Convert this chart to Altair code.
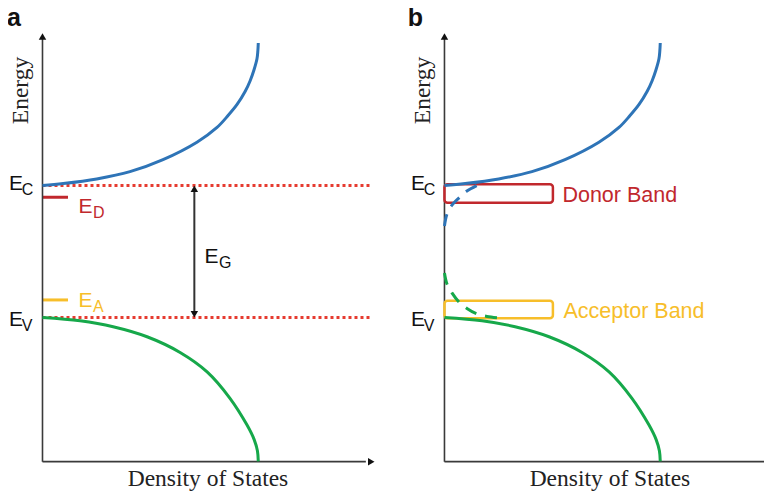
import altair as alt
import pandas as pd

# ---------------- data (normalised DOS, normalised energy: Ev = 0, Ec = 1) ----------------
PANEL_SHIFT = 1.861          # panel b sits to the right of panel a along the DOS axis

cb_dos = [0.0, 0.096, 0.251, 0.405, 0.558, 0.715, 0.808, 0.859, 0.900, 0.938, 0.961, 0.979, 0.993, 0.997, 0.999]
cb_energy = [1.0, 1.015, 1.050, 1.105, 1.196, 1.328, 1.440, 1.530, 1.612, 1.712, 1.792, 1.875, 1.960, 2.020, 2.080]

vb_dos = [0.0, 0.174, 0.327, 0.484, 0.637, 0.762, 0.868, 0.947, 0.980, 0.995, 0.999]
vb_energy = [0.0, -0.025, -0.070, -0.146, -0.265, -0.412, -0.612, -0.815, -0.925, -1.010, -1.09]

# band tails (panel b, dashed)
cb_tail_dos = [0.0, 0.0116, 0.0347, 0.0718, 0.104, 0.164]
cb_tail_energy = [0.693, 0.784, 0.852, 0.913, 0.958, 1.011]
vb_tail_dos = [0.0, 0.0116, 0.0347, 0.067, 0.104, 0.150, 0.197, 0.248]
vb_tail_energy = [0.337, 0.254, 0.186, 0.117, 0.068, 0.027, 0.008, -0.002]

E_C, E_V = 1.0, 0.0
E_D, E_A = 0.911, 0.133
LEVEL_LEN = 0.118
DOTTED_LEN = 1.525
EG_DOS = 0.703
AXIS_TOP, AXIS_BOTTOM, AXIS_RIGHT = 2.153, -1.092, 1.537

donor_band = [0.870, 1.009]
acceptor_band = [-0.006, 0.127]
BAND_WIDTH = 0.502

BLUE, GREEN = "#2E74B7", "#16A84A"
RED, DOTRED, YELLOW = "#C1282D", "#E63B30", "#F7BE2A"
AXIS = "#3A3A3A"

panels = {"a": 0.0, "b": PANEL_SHIFT}

xscale = alt.Scale(domain=[-0.1597, 3.3403], nice=False, zero=False)
yscale = alt.Scale(domain=[-1.3220, 2.3447], nice=False, zero=False)
X = lambda f="x": alt.X(f"{f}:Q", scale=xscale, axis=None)
Y = lambda f="y": alt.Y(f"{f}:Q", scale=yscale, axis=None)

# ---------------- curves ----------------
rows = []
def add_curve(name, ds, es, shift, color, dashed):
    for i, (d, e) in enumerate(zip(ds, es)):
        rows.append(dict(curve=name, x=d + shift, y=e, i=i, color=color, dashed=dashed))

for p, s in panels.items():
    add_curve(f"cb_{p}", cb_dos, cb_energy, s, BLUE, False)
    add_curve(f"vb_{p}", vb_dos, vb_energy, s, GREEN, False)
add_curve("cb_tail", cb_tail_dos, cb_tail_energy, PANEL_SHIFT, BLUE, True)
add_curve("vb_tail", vb_tail_dos, vb_tail_energy, PANEL_SHIFT, GREEN, True)
curves = pd.DataFrame(rows)

solid = alt.Chart(curves[~curves.dashed]).mark_line(
    strokeWidth=3, interpolate="catmull-rom", strokeCap="butt"
).encode(x=X(), y=Y(), detail="curve:N", order="i:Q", color=alt.Color("color:N", scale=None))

dashed = alt.Chart(curves[curves.dashed]).mark_line(
    strokeWidth=3, interpolate="catmull-rom", strokeDash=[12, 9]
).encode(x=X(), y=Y(), detail="curve:N", order="i:Q", color=alt.Color("color:N", scale=None))

# ---------------- axes ----------------
vaxis = pd.DataFrame([dict(x=s, y=AXIS_BOTTOM, y2=AXIS_TOP - 0.04) for s in panels.values()])
haxis = pd.DataFrame([dict(x=s, x2=s + AXIS_RIGHT - 0.04, y=AXIS_BOTTOM) for s in panels.values()])
vrule = alt.Chart(vaxis).mark_rule(color=AXIS, strokeWidth=1.6).encode(x=X(), y=Y(), y2="y2:Q")
hrule = alt.Chart(haxis).mark_rule(color=AXIS, strokeWidth=1.6).encode(x=X(), x2="x2:Q", y=Y())

up_heads = pd.DataFrame([dict(x=s, y=AXIS_TOP) for s in panels.values()] + [dict(x=EG_DOS, y=E_C)])
down_heads = pd.DataFrame([dict(x=EG_DOS, y=E_V)])
right_heads = pd.DataFrame([dict(x=s + AXIS_RIGHT, y=AXIS_BOTTOM) for s in panels.values()])
HS = 56
H = (HS ** 0.5) / 2 * (3 ** 0.5) / 2
up = alt.Chart(up_heads).mark_point(shape="triangle-up", filled=True, size=HS, color="#111",
                                    opacity=1, yOffset=H).encode(x=X(), y=Y())
down = alt.Chart(down_heads).mark_point(shape="triangle-down", filled=True, size=HS, color="#111",
                                        opacity=1, yOffset=-H).encode(x=X(), y=Y())
right = alt.Chart(right_heads).mark_point(shape="triangle-right", filled=True, size=HS, color="#111",
                                          opacity=1, xOffset=-H).encode(x=X(), y=Y())

# ---------------- panel a levels ----------------
dotted = alt.Chart(pd.DataFrame([dict(x=0, x2=DOTTED_LEN, y=E_C), dict(x=0, x2=DOTTED_LEN, y=E_V)])
                   ).mark_rule(color=DOTRED, strokeWidth=3, strokeDash=[3, 3]).encode(x=X(), x2="x2:Q", y=Y())
levels = alt.Chart(pd.DataFrame([dict(x=0, x2=LEVEL_LEN, y=E_D, color=RED),
                                 dict(x=0, x2=LEVEL_LEN, y=E_A, color=YELLOW)])
                   ).mark_rule(strokeWidth=3).encode(x=X(), x2="x2:Q", y=Y(),
                                                     color=alt.Color("color:N", scale=None))
eg_shaft = alt.Chart(pd.DataFrame([dict(x=EG_DOS, y=E_V + 0.04, y2=E_C - 0.04)])
                     ).mark_rule(color="#333", strokeWidth=2).encode(x=X(), y=Y(), y2="y2:Q")

# ---------------- panel b impurity bands ----------------
bands = pd.DataFrame([
    dict(x=PANEL_SHIFT, x2=PANEL_SHIFT + BAND_WIDTH, y=donor_band[0], y2=donor_band[1], color=RED),
    dict(x=PANEL_SHIFT, x2=PANEL_SHIFT + BAND_WIDTH, y=acceptor_band[0], y2=acceptor_band[1], color=YELLOW),
])
band_rects = alt.Chart(bands).mark_rect(filled=False, strokeWidth=2.5, cornerRadius=3).encode(
    x=X(), x2="x2:Q", y=Y(), y2="y2:Q", color=alt.Color("color:N", scale=None))

# ---------------- labels ----------------
sans_rows = []
for p, s in panels.items():
    sans_rows += [
        dict(text="E", x=s - 0.1550, y=0.966, size=21, color="#111"),
        dict(text="C", x=s - 0.0960, y=0.928, size=16, color="#111"),
        dict(text="E", x=s - 0.1550, y=-0.068, size=21, color="#111"),
        dict(text="V", x=s - 0.0960, y=-0.106, size=16, color="#111"),
    ]
sans_rows += [
    dict(text="E", x=0.1667, y=0.792, size=21, color=RED),
    dict(text="D", x=0.2338, y=0.754, size=16, color=RED),
    dict(text="E", x=0.1667, y=0.082, size=21, color=YELLOW),
    dict(text="A", x=0.2338, y=0.044, size=16, color=YELLOW),
    dict(text="E", x=0.750, y=0.415, size=21, color="#111"),
    dict(text="G", x=0.817, y=0.373, size=16, color="#111"),
    dict(text="Donor Band", x=PANEL_SHIFT + 0.546, y=0.877, size=21.5, color=RED),
    dict(text="Acceptor Band", x=PANEL_SHIFT + 0.551, y=-0.006, size=21.5, color=YELLOW),
]
sans = alt.Chart(pd.DataFrame(sans_rows)).mark_text(
    font="Liberation Sans", align="left", baseline="alphabetic"
).encode(x=X(), y=Y(), text="text:N", size=alt.Size("size:Q", scale=None),
         color=alt.Color("color:N", scale=None))

serif_rows = []
for p, s in panels.items():
    serif_rows += [
        dict(text="Energy", x=s - 0.068, y=1.720, angle=270),
        dict(text="Density of States", x=s + 0.766, y=-1.280, angle=0),
    ]
serif = alt.Chart(pd.DataFrame(serif_rows)).mark_text(
    font="Liberation Serif", align="center", baseline="alphabetic", fontSize=23.5, color="#222"
).encode(x=X(), y=Y(), text="text:N", angle=alt.Angle("angle:Q", scale=None))

bold = alt.Chart(pd.DataFrame([dict(text="a", x=-0.1640, y=2.210),
                               dict(text="b", x=PANEL_SHIFT - 0.1700, y=2.210)])).mark_text(
    font="Liberation Sans", fontWeight="bold", fontSize=25, align="left", baseline="alphabetic", color="#111"
).encode(x=X(), y=Y(), text="text:N")

chart = alt.layer(
    dotted, levels, vrule, hrule, eg_shaft, up, down, right,
    band_rects, solid, dashed, sans, serif, bold
).properties(
    width=756, height=484, padding=0, autosize=alt.AutoSizeParams(type="none"), background="white"
).configure_view(strokeWidth=0)

chart.save("out.html", embed_options={"renderer": "svg", "actions": False})
